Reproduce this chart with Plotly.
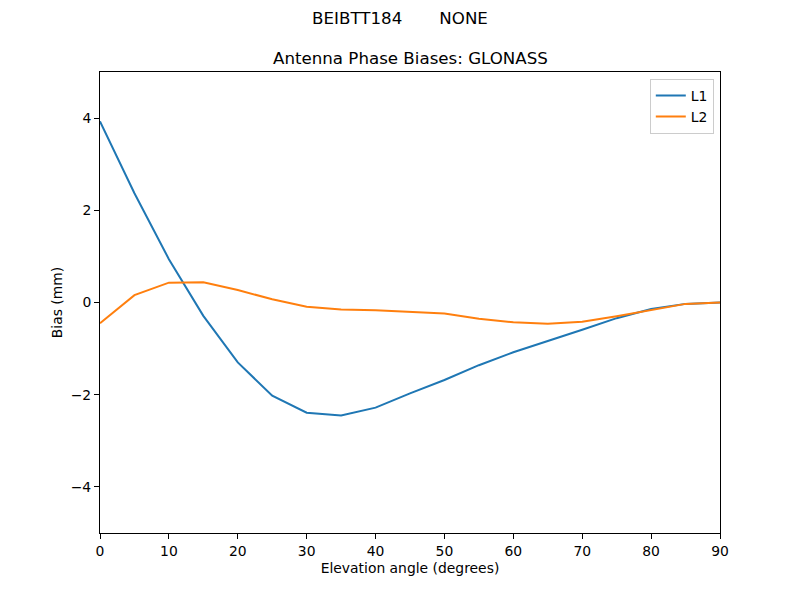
import plotly.graph_objects as go

elevation = [0, 5, 10, 15, 20, 25, 30, 35, 40, 45, 50, 55, 60, 65, 70, 75, 80, 85, 90]
l1_bias = [3.93, 2.37, 0.94, -0.29, -1.30, -2.02, -2.39, -2.45, -2.28, -1.97,
           -1.68, -1.36, -1.08, -0.84, -0.59, -0.34, -0.14, -0.03, 0.0]
l2_bias = [-0.45, 0.16, 0.43, 0.44, 0.27, 0.07, -0.09, -0.15, -0.17, -0.20,
           -0.24, -0.35, -0.43, -0.46, -0.42, -0.30, -0.16, -0.03, 0.0]
x_ticks = [0, 10, 20, 30, 40, 50, 60, 70, 80, 90]
y_ticks = [-4, -2, 0, 2, 4]

FONT = "DejaVu Sans"
SMALL = 13.9
LARGE = 16.67

fig = go.Figure()
fig.add_trace(go.Scatter(x=elevation, y=l1_bias, mode="lines", name="L1",
                         line=dict(color="#1f77b4", width=2)))
fig.add_trace(go.Scatter(x=elevation, y=l2_bias, mode="lines", name="L2",
                         line=dict(color="#ff7f0e", width=2)))

axis_common = dict(showline=True, linecolor="black", linewidth=1, mirror=True,
                   ticks="outside", ticklen=5, tickcolor="black", showgrid=False,
                   zeroline=False, automargin=False,
                   tickfont=dict(family=FONT, size=SMALL, color="black"))

fig.update_layout(
    width=800, height=600,
    paper_bgcolor="white", plot_bgcolor="white",
    margin=dict(l=92, r=88, t=64, b=75),
    font=dict(family=FONT, size=SMALL, color="black"),
    xaxis=dict(range=[0, 90], tickvals=x_ticks,
               title=dict(text="Elevation angle (degrees)", font=dict(family=FONT, size=SMALL), standoff=5),
               **axis_common),
    yaxis=dict(range=[-5, 5], tickvals=y_ticks, ticktext=["\u22124", "\u22122", "0", "2", "4"],
               title=dict(text="Bias (mm)", font=dict(family=FONT, size=SMALL), standoff=4),
               **axis_common),
    legend=dict(x=0.99, y=0.985, xanchor="right", yanchor="top",
                bgcolor="rgba(255,255,255,0.8)", bordercolor="#cccccc", borderwidth=1,
                tracegroupgap=0, font=dict(family=FONT, size=SMALL)),
    showlegend=True,
    title=dict(text="BEIBTT184&nbsp;&nbsp;&nbsp;&nbsp;&nbsp;&nbsp;&nbsp;NONE",
               x=0.49, xanchor="center", y=1 - 10 / 600, yanchor="middle",
               font=dict(family=FONT, size=LARGE)),
)

fig.add_annotation(text="Antenna Phase Biases: GLONASS", xref="paper", yref="paper",
                   x=0.5, y=1, xanchor="center", yanchor="bottom", yshift=2,
                   showarrow=False, font=dict(family=FONT, size=LARGE))

fig.write_html("out.html")
